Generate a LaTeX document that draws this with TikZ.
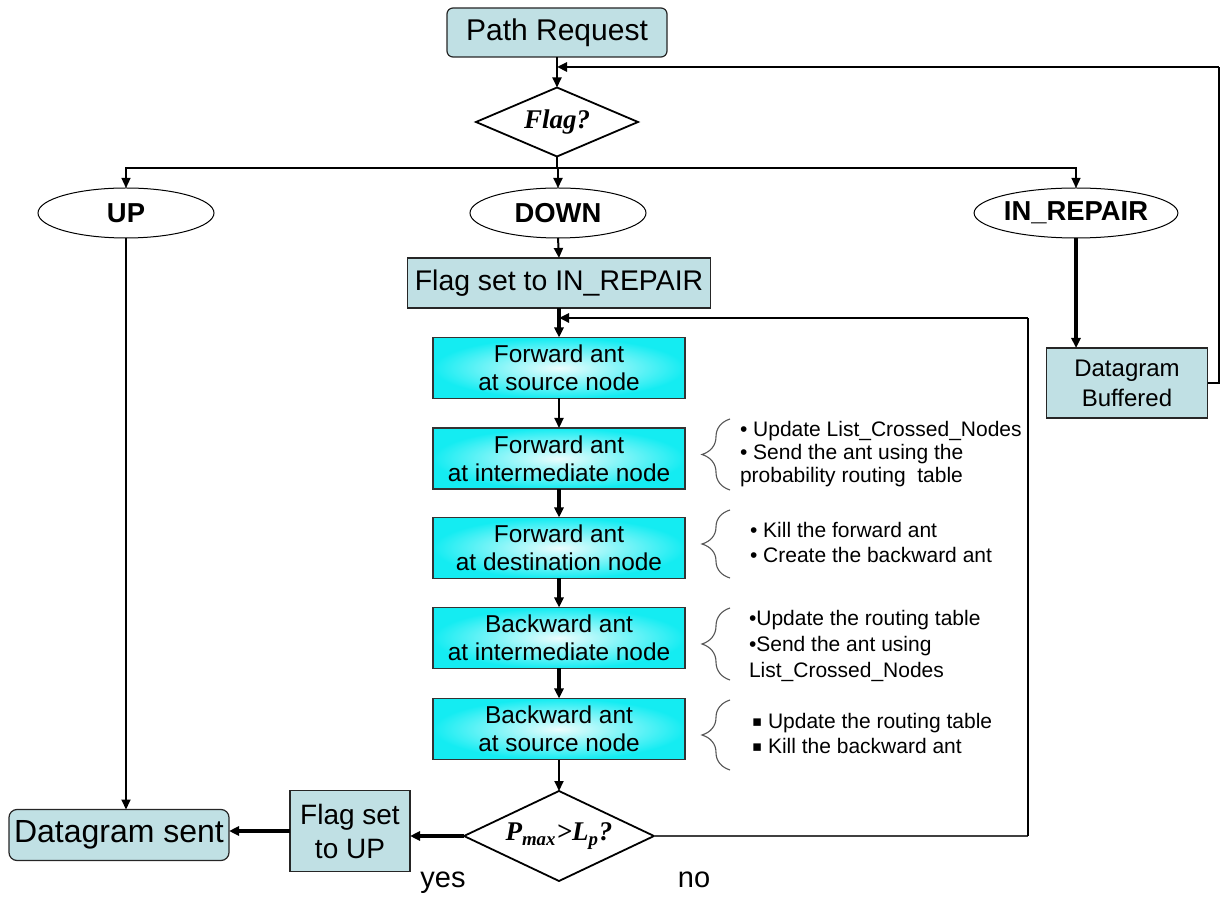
\documentclass[tikz,border=0pt]{standalone}
\usepackage{fontspec}
\setmainfont{Liberation Sans}
\newfontfamily\tnr{Liberation Serif}
\newfontfamily\djv{DejaVu Sans}
\usetikzlibrary{shapes.geometric,arrows.meta,decorations.pathreplacing}
\definecolor{tealfill}{RGB}{192,224,228}
\definecolor{cyanA}{RGB}{20,236,242}
\definecolor{cyanB}{RGB}{236,253,253}
\definecolor{brgray}{RGB}{85,85,85}
\newcommand{\sqbul}{\raisebox{0.8pt}{\djv\fontsize{7.5}{7.5}\selectfont ▪}}
\begin{document}
\begin{tikzpicture}[x=0.5pt,y=-0.5pt,
 every node/.style={inner sep=0pt, outer sep=0pt},
 tealbox/.style={draw=black!85, line width=0.6pt, fill=tealfill, align=center},
 antbox/.style={draw=black!80, line width=0.6pt, inner color=cyanB, outer color=cyanA,
   minimum width=126pt, minimum height=30.5pt, align=center, font=\fontsize{12.2}{14}\selectfont},
 oval/.style={ellipse, draw, line width=0.5pt, fill=white, minimum width=88pt, minimum height=25pt,
   font=\bfseries\fontsize{13.7}{15}\selectfont},
 dec/.style={diamond, draw, line width=0.9pt, fill=white, font=\tnr\bfseries\itshape\fontsize{13.5}{15}\selectfont},
 note/.style={anchor=north west, align=left, font=\fontsize{10.5}{12.5}\selectfont},
 arr/.style={-{Triangle[length=5pt,width=4.5pt]}},
 thn/.style={line width=0.6pt},
 med/.style={line width=1pt},
 thk/.style={line width=1.6pt},
 br/.style={draw=brgray, line width=0.55pt, decorate, decoration={brace, amplitude=14pt}}
]
\useasboundingbox (0,0) rectangle (1221,897);

% nodes
\node[tealbox, rounded corners=3pt, minimum width=110pt, minimum height=24.5pt,
      font=\fontsize{15}{17}\selectfont] (req) at (557,32.5) {Path Request};
\node[dec, aspect=2.35, minimum width=81pt, minimum height=34.5pt] (flag) at (557,122) {Flag?};
\node[oval] (up) at (126,213) {UP};
\node[oval] (down) at (558,213) {DOWN};
\node[oval] (irep) at (1076,213) {IN\_REPAIR};
\node[tealbox, minimum width=151.5pt, minimum height=25pt,
      font=\fontsize{14.2}{16}\selectfont] (fsr) at (559,283) {Flag set to IN\_REPAIR};
\node[antbox] (fa1) at (559,368) {Forward ant\\at source node};
\node[antbox] (fa2) at (559,458.5) {Forward ant\\at intermediate node};
\node[antbox] (fa3) at (559,548) {Forward ant\\at destination node};
\node[antbox] (ba1) at (559,638) {Backward ant\\at intermediate node};
\node[antbox] (ba2) at (559,729) {Backward ant\\at source node};
\node[dec, aspect=2.11, minimum width=95pt, minimum height=45pt] (pd) at (559,836)
      {P\textsubscript{max}>L\textsubscript{p}?};
\node[tealbox, minimum width=60pt, minimum height=40.5pt,
      font=\fontsize{14}{17}\selectfont] (fsu) at (350,831) {Flag set\\to UP};
\node[tealbox, rounded corners=4pt, minimum width=110pt, minimum height=25.5pt,
      font=\fontsize{16}{18}\selectfont] (dsent) at (119,835) {Datagram sent};
\node[tealbox, minimum width=80.5pt, minimum height=35pt,
      font=\fontsize{12}{15}\selectfont] (dbuf) at (1127,383) {Datagram\\Buffered};
\node[anchor=base, font=\fontsize{14.5}{16}\selectfont] (yes) at (443,887) {yes};
\node[anchor=base, font=\fontsize{14.5}{16}\selectfont] (no) at (694,887) {no};

% coordinates
\coordinate (split) at (557,168);
\coordinate (r1) at (1219,383);
\coordinate (r2) at (1219,67);
\coordinate (l1) at (1028,836);
\coordinate (l2) at (1028,318);

% connectors
\draw[med,arr] (req.south) -- (flag.north);
\draw[thn] (flag.south) -- (split);
\draw[thn,arr] (split) -| (up.north);
\draw[thn,arr] (split) -| (irep.north);
\draw[line width=0.9pt,arr] (down.north |- split) -- (down.north);
\draw[med,arr] (down.south) -- (fsr.north);
\draw[thk,arr] (fsr.south) -- (fa1.north);
\draw[line width=1.1pt,arr] (fa1.south) -- (fa2.north);
\draw[thk,arr] (fa2.south) -- (fa3.north);
\draw[thk,arr] (fa3.south) -- (ba1.north);
\draw[thk,arr] (ba1.south) -- (ba2.north);
\draw[med,arr] (ba2.south) -- (pd.north);
\draw[thk,arr] (pd.west) -- (pd.west -| fsu.east);
\draw[thk,arr] (fsu.west) -- (fsu.west -| dsent.east);
\draw[med,arr] (up.south) -- (up.south |- dsent.north);
\draw[thk,arr] (irep.south) -- (irep.south |- dbuf.north);
\draw[thn] (dbuf.east) -- (r1) -- (r2);
\draw[line width=1.3pt,arr] (r2) -- (r2 -| req.south);
\draw[line width=0.7pt, draw=black!75] (pd.east) -- (l1);
\draw[thn] (l1) -- (l2);
\draw[line width=1.2pt,arr] (l2) -- (l2 -| fa1.north);

% braces and notes
\draw[br] (730,490) -- (730,419);
\draw[br] (730,578) -- (730,510);
\draw[br] (730,680) -- (730,608);
\draw[br] (730,770) -- (730,700);

\node[note, font=\fontsize{10.5}{11.5}\selectfont] (n2) at (740,421)
  {• Update List\_Crossed\_Nodes\\• Send the ant using the\\probability routing\ \ table};
\node[note] (n3) at (750,522) {• Kill the forward ant\\• Create the backward ant};
\node[note, font=\fontsize{10.5}{13}\selectfont] (n4) at (749,610)
  {•Update the routing table\\•Send the ant using\\List\_Crossed\_Nodes};
\node[note] (n5) at (752,713) {\sqbul\ Update the routing table\\\sqbul\ Kill the backward ant};
\end{tikzpicture}
\end{document}
